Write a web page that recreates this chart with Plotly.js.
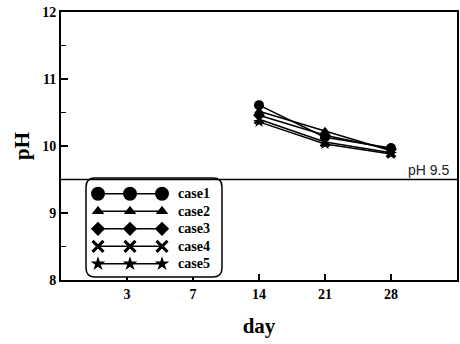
<!DOCTYPE html>
<html>
<head>
<meta charset="utf-8">
<script src="https://cdn.plot.ly/plotly-3.0.1.min.js"></script>
<style>html,body{margin:0;padding:0;background:#fff;}#chart{width:460px;height:344px;}</style>
</head>
<body>
<div id="chart"></div>
<script>
// Sampling days (evenly spaced categories on the x axis)
const days = ['3', '7', '14', '21', '28'];
// Days that have measurements
const measuredDays = ['14', '21', '28'];

// pH readings per case
const case1 = [10.61, 10.13, 9.97];
const case2 = [10.52, 10.22, 9.93];
const case3 = [10.46, 10.16, 9.95];
const case4 = [10.40, 10.06, 9.90];
const case5 = [10.36, 10.03, 9.88];

const caseNames = ['case1', 'case2', 'case3', 'case4', 'case5'];
const caseSymbols = ['circle', 'triangle-up', 'diamond', 'x-thin', 'star'];
const caseValues = [case1, case2, case3, case4, case5];

const limitPH = 9.5;
const limitLabel = 'pH 9.5';

const serif = '"Liberation Serif", "Times New Roman", serif';
const dayIndex = d => days.indexOf(d);

const traces = [];
caseValues.forEach((vals, i) => {
  const isX = caseSymbols[i] === 'x-thin';
  traces.push({
    x: measuredDays.map(dayIndex),
    y: vals,
    mode: 'lines+markers',
    showlegend: false,
    line: {color: '#000', width: 1.5},
    marker: {symbol: caseSymbols[i], size: i === 0 ? 10 : 9, color: '#000',
             line: {color: '#000', width: isX ? 2.5 : 0}},
    hoverinfo: 'skip'
  });
});

// Legend samples: a line with three markers per case, on an inset axis
const legendSamples = [0, 1, 2];
caseValues.forEach((vals, i) => {
  const isX = caseSymbols[i] === 'x-thin';
  traces.push({
    x: legendSamples,
    y: legendSamples.map(() => i),
    xaxis: 'x2', yaxis: 'y2',
    mode: 'lines+markers',
    showlegend: false,
    line: {color: '#000', width: 1.5},
    marker: {symbol: caseSymbols[i], size: i === 0 ? 14 : 11, color: '#000',
             line: {color: '#000', width: isX ? 3 : 0}},
    hoverinfo: 'skip'
  });
});

const plotW = 396, plotH = 268;
const bx0 = 25 / plotW, bx1 = 161 / plotW, by0 = 3 / plotH, by1 = 102 / plotH;
const rx = 9 / plotW, ry = 9 / plotH;
const boxPath = `M ${bx0 + rx} ${by1} L ${bx1 - rx} ${by1} Q ${bx1} ${by1} ${bx1} ${by1 - ry} ` +
  `L ${bx1} ${by0 + ry} Q ${bx1} ${by0} ${bx1 - rx} ${by0} L ${bx0 + rx} ${by0} ` +
  `Q ${bx0} ${by0} ${bx0} ${by0 + ry} L ${bx0} ${by1 - ry} Q ${bx0} ${by1} ${bx0 + rx} ${by1} Z`;

const annotations = caseNames.map((name, i) => ({
  x: 2.45, y: i, xref: 'x2', yref: 'y2', text: name, showarrow: false,
  xanchor: 'left', yanchor: 'middle',
  font: {family: serif, size: 14, color: '#000', weight: 'bold'}
}));
annotations.push({
  x: 0.985, y: limitPH, xref: 'paper', yref: 'y', text: limitLabel, showarrow: false,
  xanchor: 'right', yanchor: 'bottom', yshift: 0,
  font: {family: '"Liberation Sans", Arial, sans-serif', size: 14, color: '#222'}
});

const layout = {
  width: 460, height: 344,
  margin: {l: 61, r: 3, t: 12, b: 64},
  paper_bgcolor: '#fff', plot_bgcolor: '#fff',
  showlegend: false,
  xaxis: {
    range: [-1, 5], tickvals: days.map(dayIndex), ticktext: days,
    ticks: 'inside', ticklen: 6, tickwidth: 1.5, tickcolor: '#000',
    showline: true, linecolor: '#000', linewidth: 2, mirror: true,
    showgrid: false, zeroline: false,
    tickfont: {family: serif, size: 14, color: '#000', weight: 'bold'},
    title: {text: 'day', font: {family: serif, size: 21, color: '#000', weight: 'bold'}, standoff: 18}
  },
  yaxis: {
    range: [8, 12], tickvals: [8, 9, 10, 11, 12],
    ticks: 'inside', ticklen: 7, tickwidth: 1.5, tickcolor: '#000',
    minor: {tickvals: [8.5, 9.5, 10.5, 11.5], ticks: 'inside', ticklen: 5, tickwidth: 1.5, tickcolor: '#000', showgrid: false},
    showline: true, linecolor: '#000', linewidth: 2, mirror: true,
    showgrid: false, zeroline: false,
    tickfont: {family: serif, size: 14, color: '#000', weight: 'bold'},
    title: {text: 'pH', font: {family: serif, size: 21, color: '#000', weight: 'bold'}, standoff: 7}
  },
  xaxis2: {
    domain: [bx0, bx1], anchor: 'y2', range: [-0.375, 3.875],
    visible: false, fixedrange: true
  },
  yaxis2: {
    domain: [by0, by1], anchor: 'x2', range: [4.75, -0.9],
    visible: false, fixedrange: true
  },
  shapes: [
    {type: 'line', xref: 'paper', x0: 0, x1: 1, yref: 'y', y0: limitPH, y1: limitPH,
     line: {color: '#000', width: 1.5}},
    {type: 'path', xref: 'paper', yref: 'paper', path: boxPath,
     line: {color: '#000', width: 1.5}, fillcolor: 'rgba(0,0,0,0)'}
  ],
  annotations: annotations
};

Plotly.newPlot('chart', traces, layout, {displayModeBar: false, staticPlot: true});
</script>
</body>
</html>
